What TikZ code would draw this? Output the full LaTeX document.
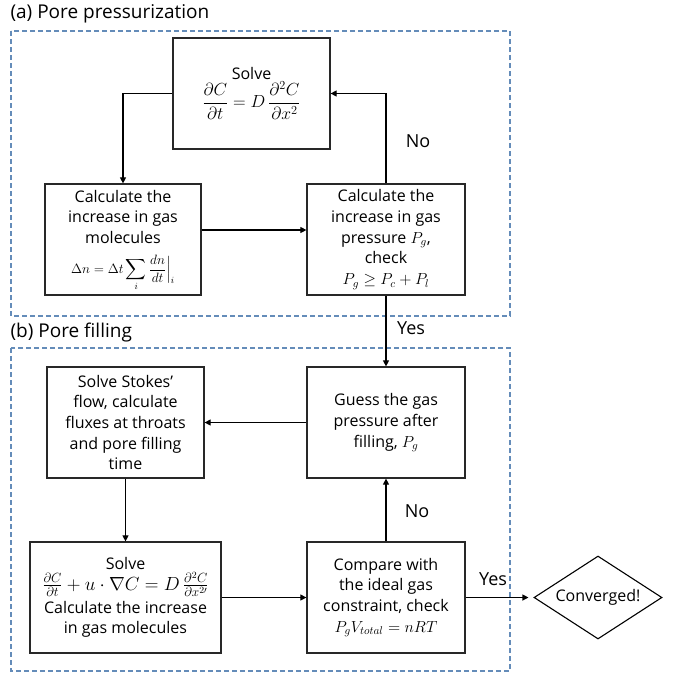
\documentclass[tikz,border=0pt]{standalone}
\usepackage{fix-cm}
\usepackage{amsmath}
\usepackage{fontspec}
\setmainfont{Open Sans}
\usetikzlibrary{arrows.meta,shapes.geometric}
\definecolor{dashblue}{RGB}{100,140,185}
\definecolor{boxgray}{RGB}{40,40,40}
\newcommand{\msz}[1]{\fontsize{#1}{#1}\selectfont}
\begin{document}
\begin{tikzpicture}[x=1pt,y=-1pt,
  box/.style={draw=boxgray,line width=1.2pt,minimum width=#1,minimum height=111pt,align=center,inner sep=0pt,font=\fontsize{16}{20.7}\selectfont},
  box/.default=157pt,
  dashbox/.style={draw=dashblue,line width=1.3pt,dash pattern=on 5pt off 3pt},
  arr/.style={draw=black,line width=1.1pt,-{Triangle[length=6pt,width=6pt]}},
  lbl/.style={font=\fontsize{18}{20}\selectfont},
  ttl/.style={font=\fontsize{19}{22}\selectfont,anchor=west}]
\useasboundingbox (0,0) rectangle (674,673);
\draw[dashbox] (11,31) rectangle (510,316);
\draw[dashbox] (11,348) rectangle (510,671);
\node[ttl] (ta) at (7,14) {(a) Pore pressurization};
\node[ttl] (tb) at (7,333) {(b) Pore filling};
\node[box] (solve) at (251.5,93.5) {Solve\\[1pt] {\msz{17.5}$\displaystyle\frac{\partial C}{\partial t} = D\,\frac{\partial^2 C}{\partial x^2}$}};
\node[box=156pt] (calc) at (123,239.5) {\begin{tabular}{@{}c@{}}Calculate the\\increase in gas\\molecules\end{tabular}\\[4pt] {\msz{13.5}$\Delta n = \Delta t\displaystyle\sum_i \frac{dn}{dt}\Big|_i$}};
\node[box=158pt] (press) at (386,239.5) {Calculate the\\increase in gas\\pressure $P_g$,\\check\\$P_g \geq P_c + P_l$};
\node[box] (stokes) at (125.5,422.5) {Solve Stokes’\\flow, calculate\\fluxes at throats\\and pore filling\\time};
\node[box=158pt] (guess) at (386,422.5) {Guess the gas\\pressure after\\filling, $P_g$};
\node[box=191pt] (solvetwo) at (125.5,597.5) {Solve\\ {\msz{19}$\frac{\partial C}{\partial t} + u\cdot\nabla C = D\,\frac{\partial^2 C}{\partial x^{2\prime}}$}\\[2pt]Calculate the increase\\in gas molecules};
\node[box=158pt] (comp) at (386,597.5) {Compare with\\the ideal gas\\constraint, check\\$P_gV_{total} = nRT$};
\node[draw=black,line width=1.1pt,diamond,aspect=1.54,minimum width=128pt,minimum height=83pt,inner sep=0pt,font=\fontsize{16}{18}\selectfont] (conv) at (598,597.5) {Converged!};
\coordinate (pin) at ([yshift=9.5pt]press.west);
\draw[arr] (solve.west) -| (calc.north);
\draw[arr] (calc.east |- pin) -- (pin);
\draw[arr] (press.north) |- (solve.east);
\draw[arr] (press.south) -- (guess.north);
\draw[arr] (guess.west) -- (stokes.east);
\draw[arr] (stokes.south) -- (solvetwo.north);
\draw[arr] (solvetwo.east) -- (comp.west);
\draw[arr] (comp.north) -- (guess.south);
\draw[arr,shorten >=5pt] (comp.east) -- (conv.west);
\node[lbl] (no1) at (418,141) {No};
\node[lbl] (yes1) at (411,328) {Yes};
\node[lbl] (no2) at (417,511) {No};
\node[lbl] (yes2) at (493,579) {Yes};
\end{tikzpicture}
\end{document}
